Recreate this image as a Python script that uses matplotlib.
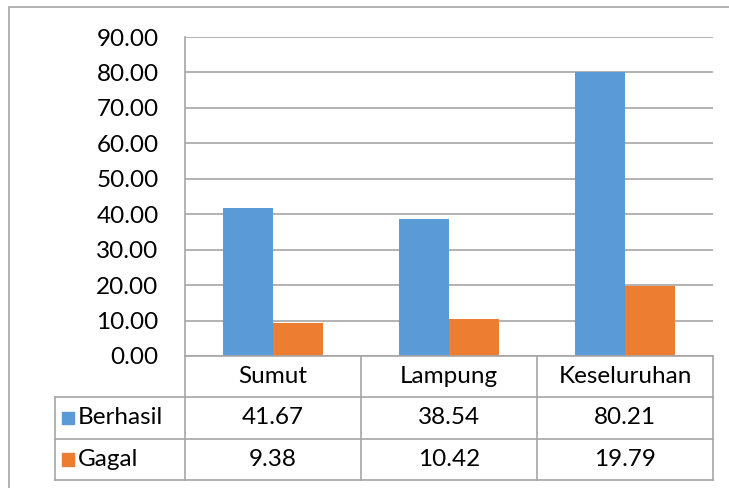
import numpy as np
import matplotlib
matplotlib.use("Agg")
import matplotlib.pyplot as plt
from matplotlib.patches import Rectangle

plt.rcParams["font.family"] = ["Lato", "DejaVu Sans"]

CATEGORIES = ["Sumut", "Lampung", "Keseluruhan"]
SERIES = ["Berhasil", "Gagal"]
BERHASIL = [41.67, 38.54, 80.21]
GAGAL = [9.38, 10.42, 19.79]
COLORS = ["#5B9BD5", "#ED7D31"]

W, H = 729, 488
GRID = "#A6A6A6"
FS = 17.5


def fx(px):
    return px / W


def fy(py):
    return 1 - py / H


fig = plt.figure(figsize=(W / 100, H / 100), dpi=100)

# outer chart border (cropped on right and bottom)
fig.patches.append(Rectangle((fx(9), fy(495)), fx(740) - fx(9), fy(7) - fy(495),
                             transform=fig.transFigure, fill=False,
                             edgecolor=GRID, linewidth=1.2))

# plot area
left, right, top, bottom = 185, 713, 37, 356
ax = fig.add_axes([fx(left), fy(bottom), fx(right) - fx(left), fy(top) - fy(bottom)])
x = np.arange(len(CATEGORIES))
bw = 0.284
for i, (vals, c) in enumerate(zip([BERHASIL, GAGAL], COLORS)):
    ax.bar(x + (i - 0.5) * bw, vals, bw, color=c, zorder=3)
ax.set_xlim(-0.5, 2.5)
ax.set_ylim(0, 90)
ax.set_yticks(np.arange(0, 91, 10))
ax.set_yticklabels([f"{v:.2f}" for v in range(0, 91, 10)], fontsize=FS)
ax.set_xticks([])
ax.tick_params(axis="y", length=0, pad=19)
ax.grid(axis="y", color=GRID, linewidth=1.2, zorder=0)
for s in ["top", "right", "bottom"]:
    ax.spines[s].set_visible(False)
ax.spines["left"].set_color(GRID)
ax.spines["left"].set_linewidth(1.2)

# data table below the plot
tl, tb = 55, 480
tax = fig.add_axes([fx(tl), fy(tb), fx(right) - fx(tl), fy(bottom) - fy(tb)])
lab_w = (left - tl) / ((right - left) / 3)
tax.set_xlim(-0.5 - lab_w, 2.5)
tax.set_ylim(3, 0)
tax.axis("off")
kw = dict(color=GRID, linewidth=1.2, clip_on=False)
# horizontal lines
tax.plot([-0.5, 2.5], [0, 0], **kw)
for r in [1, 2, 3]:
    tax.plot([-0.5 - lab_w, 2.5], [r, r], **kw)
# vertical lines
tax.plot([-0.5 - lab_w, -0.5 - lab_w], [1, 3], **kw)
for c in [-0.5, 0.5, 1.5, 2.5]:
    tax.plot([c, c], [0, 3], **kw)
for j, cat in enumerate(CATEGORIES):
    tax.text(j, 0.5, cat, ha="center", va="center", fontsize=FS)
for r, (name, vals, c) in enumerate(zip(SERIES, [BERHASIL, GAGAL], COLORS)):
    y = r + 1.5
    mx = -0.5 - lab_w + 0.04
    tax.add_patch(Rectangle((mx, y - 0.15), 0.07, 0.3, color=c, clip_on=False))
    tax.text(mx + 0.09, y, name, ha="left", va="center", fontsize=FS)
    for j, v in enumerate(vals):
        tax.text(j, y, f"{v:.2f}", ha="center", va="center", fontsize=FS)

fig.savefig("out.png", dpi=100)
